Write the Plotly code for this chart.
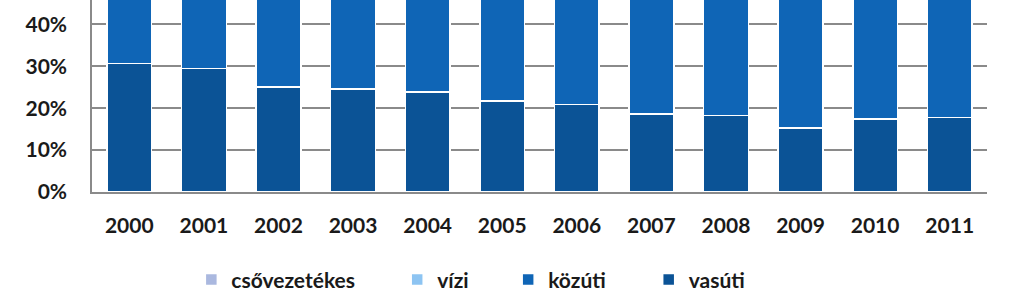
import plotly.graph_objects as go

years = ["2000", "2001", "2002", "2003", "2004", "2005", "2006", "2007", "2008", "2009", "2010", "2011"]
vasuti = [30.6, 29.5, 25.1, 24.6, 23.8, 21.7, 20.9, 18.6, 18.3, 15.3, 17.4, 17.8]
kozuti = [57.0, 58.5, 63.0, 64.0, 65.0, 67.0, 68.0, 70.5, 71.0, 74.0, 72.5, 72.0]
vizi = [5.5, 5.0, 4.8, 4.5, 4.6, 4.5, 4.7, 4.2, 4.4, 4.0, 4.1, 4.3]
csovezetekes = [6.9, 7.0, 7.1, 6.9, 6.6, 6.8, 6.4, 6.7, 6.3, 6.7, 6.0, 5.9]

series = [
    ("vasúti", vasuti, "#0b5396", "legend4", 0.622),
    ("közúti", kozuti, "#0f65b6", "legend3", 0.465),
    ("vízi", vizi, "#8dc4f2", "legend2", 0.341),
    ("csővezetékes", csovezetekes, "#aab8df", "legend", 0.111),
]

FONT = dict(family="Lato", size=21, color="#1a1a1a", weight="bold")

fig = go.Figure()
for name, vals, col, lg, _ in series:
    fig.add_trace(go.Bar(
        x=years, y=vals, name=name, legend=lg,
        marker=dict(color=col, line=dict(color="#ffffff", width=1.5)),
    ))

legend_cfg = {}
for name, vals, col, lg, lx in series:
    legend_cfg[lg] = dict(
        x=lx, y=-0.458, xanchor="left", yanchor="middle",
        orientation="h", font=FONT, bgcolor="rgba(0,0,0,0)",
        itemclick=False,
    )

fig.update_layout(
    width=1024, height=306,
    margin=dict(l=92, r=37, t=0, b=114),
    barmode="stack", bargap=0.4,
    paper_bgcolor="white", plot_bgcolor="white",
    font=FONT,
    showlegend=True,
    xaxis=dict(
        showgrid=False, showline=True, linecolor="#8a8a8a", linewidth=1.5,
        ticks="", tickfont=FONT, ticklabelstandoff=14,
    ),
    yaxis=dict(
        range=[0, 45.8], dtick=10, ticksuffix="%",
        showgrid=True, gridcolor="#8a8a8a", gridwidth=1.5,
        showline=True, linecolor="#8a8a8a", linewidth=1.5,
        ticks="", tickfont=FONT, ticklabelstandoff=19,
        zeroline=False,
    ),
    **legend_cfg,
)

fig.write_html("out.html")
